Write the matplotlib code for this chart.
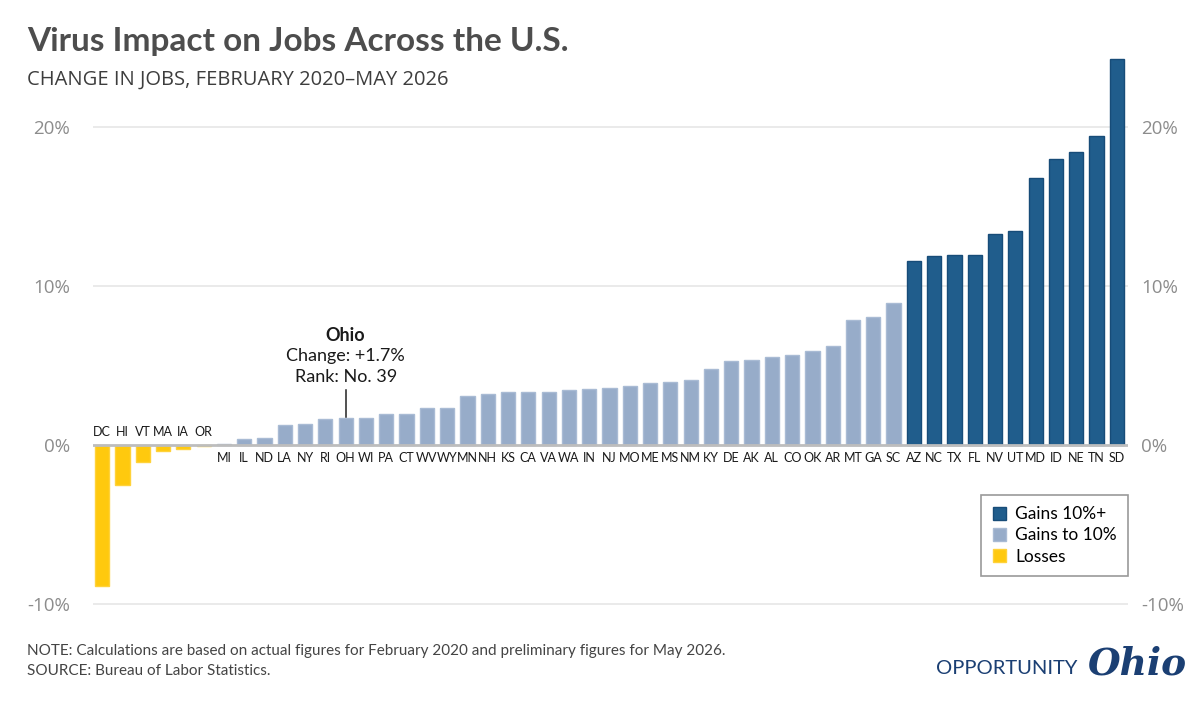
import matplotlib
matplotlib.use("Agg")
import matplotlib.pyplot as plt
from matplotlib.patches import Patch
from matplotlib import font_manager

states = ["DC","HI","VT","MA","IA","OR","MI","IL","ND","LA","NY","RI","OH","WI","PA","CT",
          "WV","WY","MN","NH","KS","CA","VA","WA","IN","NJ","MO","ME","MS","NM","KY","DE",
          "AK","AL","CO","OK","AR","MT","GA","SC","AZ","NC","TX","FL","NV","UT","MD","ID",
          "NE","TN","SD"]
changes = [-8.87,-2.50,-1.05,-0.40,-0.27,-0.06,0.08,0.36,0.46,1.24,1.30,1.64,1.70,1.72,1.95,1.98,
           2.31,2.31,3.10,3.23,3.31,3.35,3.35,3.48,3.54,3.56,3.73,3.92,3.98,4.09,4.80,5.26,
           5.33,5.55,5.64,5.89,6.25,7.86,8.07,8.95,11.60,11.87,11.93,11.95,13.30,13.44,16.80,17.97,
           18.40,19.45,24.30]
yticks = [-10, 0, 10, 20]
ytick_labels = ["-10%", "0%", "10%", "20%"]
legend_labels = ["Gains 10%+", "Gains to 10%", "Losses"]

C_DARK = "#205d8c"
C_LIGHT = "#97acc9"
C_LOSS = "#ffc90e"
E_DARK = "#174c78"
E_LIGHT = "#a9bbd4"
E_LOSS = "#ffd23a"

fill = []
edge = []
for v in changes:
    if v < 0:
        fill.append(C_LOSS); edge.append(E_LOSS)
    elif v < 10:
        fill.append(C_LIGHT); edge.append(E_LIGHT)
    else:
        fill.append(C_DARK); edge.append(E_DARK)

names = {f.name for f in font_manager.fontManager.ttflist}
if "Liberation Sans Narrow" in names:
    lab_fam, lab_size = "Liberation Sans Narrow", 10.5
else:
    lab_fam, lab_size = "Lato", 9.0

W, H = 1200, 706
fig = plt.figure(figsize=(W/100, H/100), dpi=100)
fig.patch.set_facecolor("white")

ax_l, ax_r = 93/W, 1128/W
y_lo, y_hi = -10.5, 25.0
px_per = 15.9
y0 = 445
pb = y0 + (-y_lo) * px_per
pt = y0 - y_hi * px_per
ax = fig.add_axes([ax_l, 1 - pb/H, ax_r - ax_l, (pb - pt)/H])
ax.set_xlim(-0.45, 50.55)
ax.set_ylim(y_lo, y_hi)

def ydata(py):
    return (y0 - py) / px_per

for t in [-10, 10, 20]:
    ax.axhline(t, color="#e6e6e6", lw=1.2, zorder=0)

x = list(range(len(states)))
ax.bar(x, changes, width=0.7, color=fill, edgecolor=edge, linewidth=1.0, zorder=2)
ax.axhline(0, color="#bdbdbd", lw=2, zorder=3)

for i, (s, v) in enumerate(zip(states, changes)):
    if v < 0:
        ax.text(i, 0.45, s, ha="center", va="bottom", fontsize=lab_size, family=lab_fam,
                color="#1a1a1a")
    else:
        ax.text(i, -0.45, s, ha="center", va="top", fontsize=lab_size, family=lab_fam,
                color="#1a1a1a")

ax.set_yticks(yticks)
ax.set_yticklabels(ytick_labels)
ax.tick_params(axis="y", length=0, labelsize=13.5, labelcolor="#8c8c8c", pad=16.5)
ax.set_xticks([])
for sp in ax.spines.values():
    sp.set_visible(False)
for lab in ax.get_yticklabels():
    lab.set_family("Open Sans")

axr = ax.twinx()
axr.set_ylim(y_lo, y_hi)
axr.set_yticks(yticks)
axr.set_yticklabels(ytick_labels)
axr.tick_params(axis="y", length=0, labelsize=13.5, labelcolor="#8c8c8c", pad=9.5)
for sp in axr.spines.values():
    sp.set_visible(False)
for lab in axr.get_yticklabels():
    lab.set_family("Open Sans")

# Ohio annotation
oh = states.index("OH")
ax.plot([oh, oh], [changes[oh] + 0.05, ydata(390)], color="#222222", lw=1.1, zorder=4)
ax.text(oh, ydata(335), "Ohio", ha="center", va="center", fontsize=13, fontweight="bold",
        color="#1a1a1a", family="Lato")
ax.text(oh, ydata(356), "Change: +1.7%", ha="center", va="center", fontsize=13,
        color="#1a1a1a", family="Lato")
ax.text(oh, ydata(377), "Rank: No. 39", ha="center", va="center", fontsize=13,
        color="#1a1a1a", family="Lato")

# Legend
handles = [Patch(facecolor=C_DARK, edgecolor=E_DARK),
           Patch(facecolor=C_LIGHT, edgecolor=E_LIGHT),
           Patch(facecolor=C_LOSS, edgecolor=E_LOSS)]
leg = ax.legend(handles, legend_labels, loc="upper right", bbox_to_anchor=(1128/W, 1 - 495/H),
                bbox_transform=fig.transFigure, frameon=True, fancybox=False,
                prop={"family": "Lato", "size": 12.5}, handlelength=0.75, handleheight=0.75,
                handletextpad=0.55, labelspacing=0.3, borderpad=0.65, borderaxespad=0)
leg.get_frame().set_edgecolor("#808080")
leg.get_frame().set_linewidth(1.2)

# Titles
fig.text(27/W, 1 - 42/H, "Virus Impact on Jobs Across the U.S.", fontsize=24, fontweight="bold",
         color="#4d4d4d", family="Lato", va="center", ha="left")
fig.text(27/W, 1 - 80/H, "CHANGE IN JOBS, FEBRUARY 2020\u2013MAY 2026", fontsize=14.5,
         color="#3d3d3d", family="Open Sans", va="center", ha="left")

# Footer
fig.text(27/W, 1 - 651/H, "NOTE: Calculations are based on actual figures for February 2020 and preliminary figures for May 2026.",
         fontsize=11, color="#444444", family="Lato", va="center", ha="left")
fig.text(27/W, 1 - 671/H, "SOURCE: Bureau of Labor Statistics.",
         fontsize=11, color="#444444", family="Lato", va="center", ha="left")

# Logo
fig.text(936/W, 1 - 668/H, "OPPORTUNITY", fontsize=14.5, color="#1b3f73", family="Lato",
         va="center", ha="left")
fig.text(1088/W, 1 - 664/H, "Ohio", fontsize=27, color="#1b3f73", family="DejaVu Serif",
         style="italic", fontweight="bold", va="center", ha="left")

fig.savefig("out.png", dpi=100, facecolor="white")
